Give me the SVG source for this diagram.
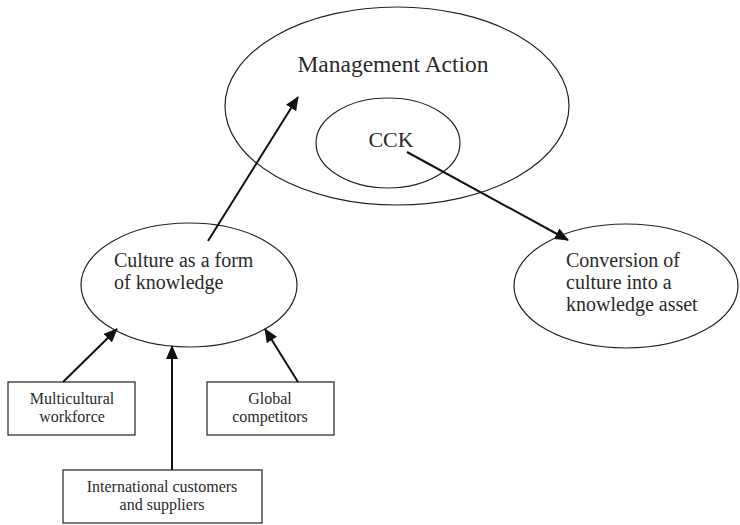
<svg xmlns="http://www.w3.org/2000/svg" width="740" height="525" viewBox="0 0 740 525">
<style>
.ell{fill:none;stroke:#222;stroke-width:1.2}
.box{fill:#fff;stroke:#222;stroke-width:1.2}
.t{font-family:"Liberation Serif","Times New Roman",serif;fill:#2a2a2a}
.c{text-anchor:middle}
.con{stroke:#111;stroke-width:2;fill:none;marker-end:url(#ah)}
</style>
<defs>
<marker id="ah" markerUnits="userSpaceOnUse" markerWidth="14" markerHeight="12" refX="13" refY="6" orient="auto">
<path d="M0,0 L14,6 L0,12 Z" fill="#111"/>
</marker>
</defs>
<rect width="740" height="525" fill="#fff"/>
<g id="management-action">
<ellipse class="ell" cx="397" cy="106" rx="172" ry="99"/>
<text class="t c" x="393" y="72" font-size="23.5">Management Action</text>
</g>
<g id="cck">
<ellipse class="ell" cx="388" cy="143" rx="72" ry="45"/>
<text class="t c" x="391" y="147" font-size="22">CCK</text>
</g>
<g id="culture">
<ellipse class="ell" cx="189" cy="285" rx="108" ry="62"/>
<text class="t" x="114" y="267" font-size="20">Culture as a form</text>
<text class="t" x="114" y="289" font-size="20">of knowledge</text>
</g>
<g id="conversion">
<ellipse class="ell" cx="626" cy="286" rx="112" ry="62"/>
<text class="t" x="566" y="267" font-size="20">Conversion of</text>
<text class="t" x="566" y="289" font-size="20">culture into a</text>
<text class="t" x="566" y="311" font-size="20">knowledge asset</text>
</g>
<g id="multicultural">
<rect class="box" x="8" y="382" width="127" height="53"/>
<text class="t c" x="72" y="404" font-size="16">Multicultural</text>
<text class="t c" x="72" y="422" font-size="16">workforce</text>
</g>
<g id="global">
<rect class="box" x="207" y="382" width="127" height="53"/>
<text class="t c" x="270" y="404" font-size="16">Global</text>
<text class="t c" x="270" y="422" font-size="16">competitors</text>
</g>
<g id="international">
<rect class="box" x="63" y="470" width="199" height="53"/>
<text class="t c" x="162" y="492" font-size="16">International customers</text>
<text class="t c" x="162" y="510" font-size="16">and suppliers</text>
</g>
<g id="connectors">
<line class="con" x1="208" y1="241" x2="298" y2="97"/>
<line class="con" x1="407" y1="152" x2="568" y2="240"/>
<line class="con" x1="63" y1="382" x2="117" y2="329"/>
<line class="con" x1="298" y1="382" x2="265" y2="329"/>
<line class="con" x1="172" y1="470" x2="172" y2="346"/>
</g>
</svg>
